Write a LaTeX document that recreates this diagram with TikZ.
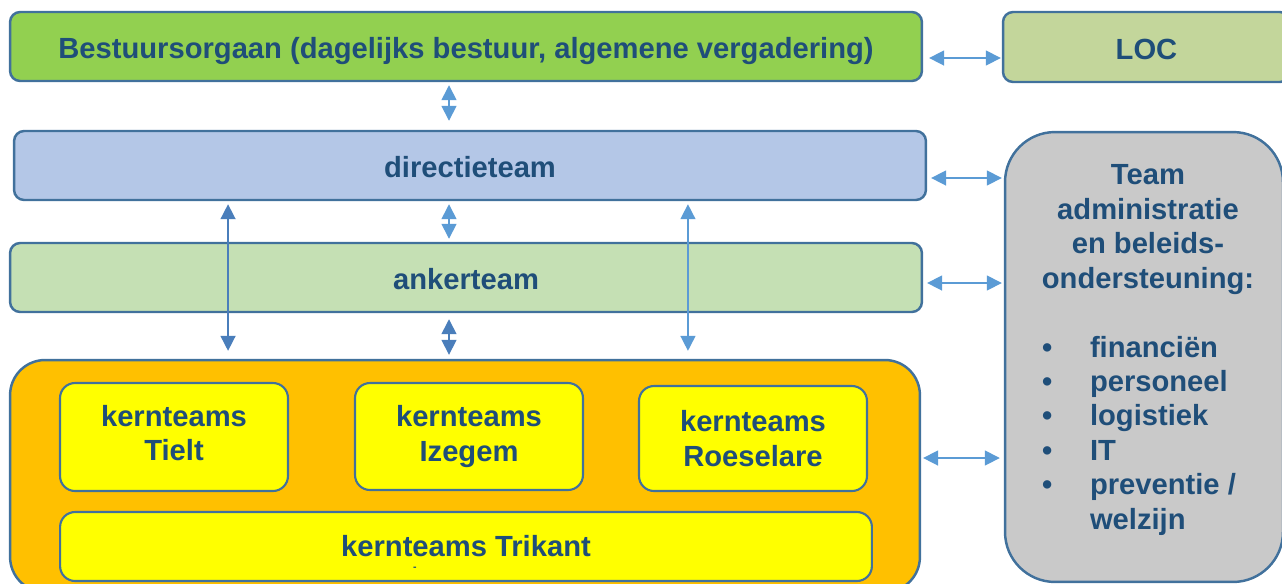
\documentclass[tikz,border=0pt]{standalone}
\usepackage{fontspec}
\setmainfont{Liberation Sans}
\usepackage{xcolor}
\usetikzlibrary{arrows.meta,positioning,calc}

\definecolor{edge}{HTML}{41719C}
\definecolor{ink}{HTML}{1F4E79}
\definecolor{bestgreen}{HTML}{92D050}
\definecolor{locgreen}{HTML}{C3D69B}
\definecolor{directieblue}{HTML}{B4C7E7}
\definecolor{ankergreen}{HTML}{C5E0B4}
\definecolor{kernorange}{HTML}{FFC000}
\definecolor{kernyellow}{HTML}{FFFF00}
\definecolor{teamgray}{HTML}{C9C9C9}
\definecolor{lightarrow}{HTML}{5B9BD5}
\definecolor{darkarrow}{HTML}{4A7EBB}

\newcommand\teamitem[1]{\makebox[1.04cm][l]{\hspace{0.08cm}\textbullet}#1\par}

\begin{document}
\begin{tikzpicture}[
  x=0.02cm, y=-0.02cm,
  every node/.style={font=\bfseries\fontsize{16.6}{19.6}\selectfont, text=ink},
  orgbox/.style={draw=edge, line width=1.4pt, rounded corners=0.2cm, inner sep=0pt, align=center},
  oneline/.style={orgbox, text height=14pt, text depth=0pt},
  kernbox/.style={orgbox, fill=kernyellow, line width=1.2pt, rounded corners=0.3cm},
  link/.style={<->, line width=0.9pt, draw=lightarrow},
  linkdark/.style={link, draw=darkarrow},
  >={Triangle[width=0.3cm,length=0.3cm]}
]
  \useasboundingbox (0,0) rectangle (1282,583);
  \clip (0,0) rectangle (1282,583);

  % top rows
  \node[oneline, fill=bestgreen, minimum width=18.24cm, minimum height=1.38cm] (bestuur) at (466,46.5)
    {Bestuursorgaan (dagelijks bestuur, algemene vergadering)};
  \node[oneline, fill=locgreen, minimum width=5.74cm, minimum height=1.4cm] (loc) at (1146.5,47) {LOC};
  \node[oneline, fill=directieblue, minimum width=18.24cm, minimum height=1.38cm] (directie) at (470,165.5) {directieteam};
  \node[oneline, fill=ankergreen, minimum width=18.24cm, minimum height=1.38cm] (anker) at (466,277.5) {ankerteam};

  % kernteams
  \node[orgbox, fill=kernorange, rounded corners=0.7cm, minimum width=18.2cm, minimum height=4.64cm] (kern) at (465,476) {};
  \node[kernbox, text depth=0.16cm, minimum width=4.56cm, minimum height=2.16cm] (tielt) at (174,437) {kernteams\\Tielt};
  \node[kernbox, minimum width=4.56cm, minimum height=2.14cm] (izegem) at (469,436.5) {kernteams\\Izegem};
  \node[kernbox, minimum width=4.56cm, minimum height=2.1cm] (roeselare) at (753,438.5) {kernteams\\Roeselare};
  \node[kernbox, minimum width=16.24cm, minimum height=1.38cm] (trikant) at (466,546.5) {kernteams Trikant};
  \node[inner sep=0pt, font=\bfseries\fontsize{6}{7}\selectfont] (dash) at (415,569) {-};

  % team administratie
  \node[orgbox, fill=teamgray, rounded corners=1cm, minimum width=5.56cm, minimum height=9cm] (team) at (1144,357)
    {\hspace*{0.16cm}\parbox{4.4cm}{\centering Team\\administratie\\en beleids-\\ondersteuning:\par
      \vspace{19.6pt}\raggedright
      \teamitem{financiën}\teamitem{personeel}\teamitem{logistiek}\teamitem{IT}\teamitem{preventie /}
      \hspace*{1.04cm}welzijn\par\vspace*{0.28cm}}};

  % horizontal links
  \coordinate (b2l) at ($(bestuur.east)+(0,-0.23cm)$);
  \coordinate (d2t) at ($(directie.east)+(0,-0.25cm)$);
  \coordinate (a2t) at ($(anker.east)+(0,-0.11cm)$);
  \coordinate (k2t) at ($(kern.east)+(0,0.36cm)$);
  \draw[link, shorten <=0.12cm, shorten >=0.02cm] (b2l) -- (b2l -| loc.west);
  \draw[link, shorten <=0.08cm, shorten >=0.04cm] (d2t) -- (d2t -| team.west);
  \draw[link, shorten <=0.08cm, shorten >=0.04cm] (a2t) -- (a2t -| team.west);
  \draw[link, shorten <=0.04cm, shorten >=0.08cm] (k2t) -- (k2t -| team.west);

  % vertical links
  \coordinate (b2d) at ($(bestuur.south)+(-0.34cm,0)$);
  \coordinate (d2kl) at ($(directie.south)+(-4.84cm,0)$);
  \coordinate (d2a) at ($(directie.south)+(-0.42cm,0)$);
  \coordinate (a2k) at ($(anker.south)+(-0.34cm,0)$);
  \coordinate (d2kr) at ($(directie.south)+(4.36cm,0)$);
  \draw[link, shorten <=0.06cm, shorten >=0.18cm] (b2d) -- (b2d |- directie.north);
  \draw[linkdark, shorten <=0.06cm, shorten >=0.16cm] (d2kl) -- (d2kl |- kern.north);
  \draw[link, shorten <=0.06cm, shorten >=0.06cm] (d2a) -- (d2a |- anker.north);
  \draw[linkdark, shorten <=0.12cm, shorten >=0.08cm] (a2k) -- (a2k |- kern.north);
  \draw[link, shorten <=0.06cm, shorten >=0.16cm] (d2kr) -- (d2kr |- kern.north);
\end{tikzpicture}
\end{document}
